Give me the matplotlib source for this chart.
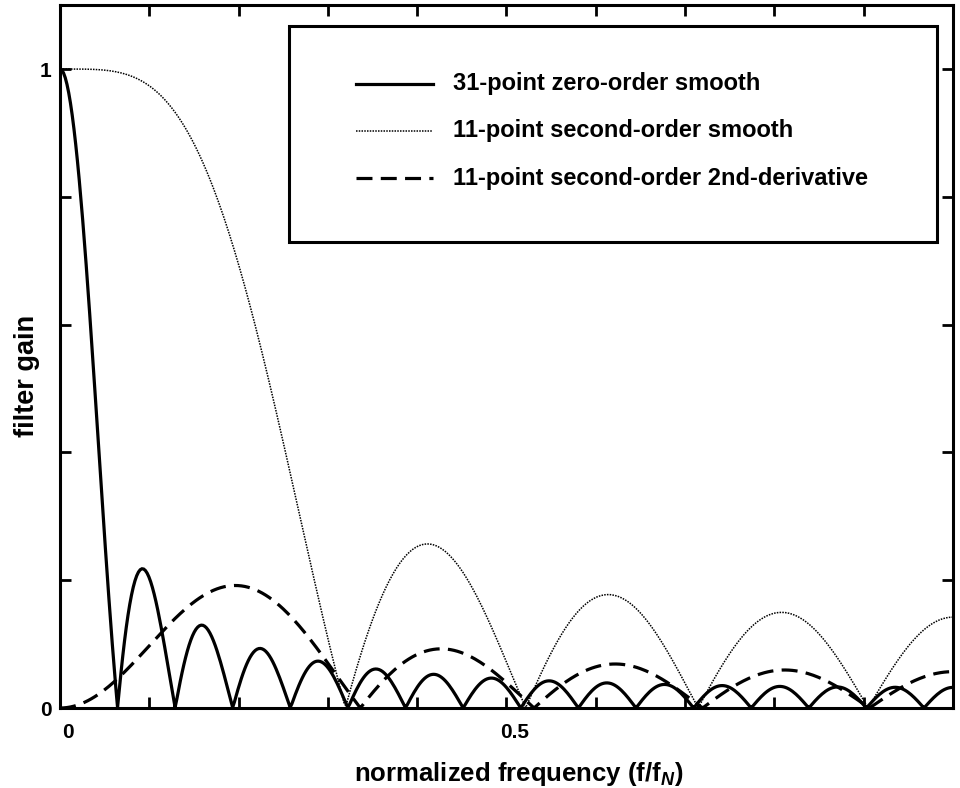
import numpy as np
import matplotlib
matplotlib.use("Agg")
import matplotlib.pyplot as plt
from matplotlib.patches import Rectangle
from matplotlib.transforms import ScaledTranslation

# filter kernels (coefficients, symmetric about the centre point)
MA31 = np.ones(31) / 31.0
SG11_SMOOTH = np.array([-36, 9, 44, 69, 84, 89, 84, 69, 44, 9, -36]) / 429.0
SG11_D2 = np.array([15, 6, -1, -6, -9, -10, -9, -6, -1, 6, 15]) / 429.0
D2_DISPLAY_SCALE = 1.22

LABELS = [
    "31-point zero-order smooth",
    "11-point second-order smooth",
    "11-point second-order 2nd-derivative",
]

NFFT = 1024


def gain(kernel, n=NFFT):
    h = np.fft.rfft(kernel, n)
    f = np.fft.rfftfreq(n) * 2.0  # normalised to Nyquist
    return f, np.abs(h)


plt.rcParams.update({
    "font.family": ["Liberation Sans", "DejaVu Sans"],
    "font.size": 16,
    "axes.linewidth": 2.2,
    "mathtext.fontset": "custom",
    "mathtext.rm": "Liberation Sans",
    "mathtext.bf": "Liberation Sans:bold",
    "mathtext.bfit": "Liberation Sans:italic:bold",
})

fig = plt.figure(figsize=(9.6, 7.88), dpi=100)
ax = fig.add_axes([0.0625, 0.1015, 0.930, 0.892])

styles = [
    dict(color="black", lw=2.3, solid_joinstyle="miter"),
    dict(color="black", lw=1.1, ls=(0, (1, 0.8))),
    dict(color="black", lw=2.3, ls=(0, (5, 2.6))),
]

f, g = gain(MA31)
ax.plot(f, g, **styles[0])
f, g = gain(SG11_SMOOTH)
ax.plot(f, g, **styles[1])
f, g = gain(SG11_D2)
ax.plot(f, g * D2_DISPLAY_SCALE, **styles[2])

ax.set_xlim(0, 1.0)
ax.set_ylim(0, 1.1)
ax.set_xticks(np.arange(0, 1.01, 0.1))
ax.set_xticklabels(["0", "", "", "", "", "0.5", "", "", "", "", ""])
ax.set_yticks(np.arange(0, 1.01, 0.2))
ax.set_yticklabels(["0", "", "", "", "", "1"])
ax.tick_params(direction="in", length=8, width=2, top=True, right=True,
               labelsize=15)
ax.tick_params(axis="x", pad=11)
ax.tick_params(axis="y", pad=6)
shift = ScaledTranslation(8 / 100, 0, fig.dpi_scale_trans)
for lbl in ax.get_xticklabels() + ax.get_yticklabels():
    lbl.set_fontweight("bold")
for lbl in ax.get_xticklabels():
    lbl.set_transform(lbl.get_transform() + shift)

ax.set_xlabel(r"normalized frequency (f/f$_\mathbfit{N}$)", fontsize=18.5,
              fontweight="bold")
ax.set_ylabel("filter gain", fontsize=19.5, fontweight="bold")
ax.xaxis.set_label_coords(0.514, -0.074)
ax.yaxis.set_label_coords(-0.022, 0.472)

# boxed key in the upper right
ax.add_patch(Rectangle((0.256, 0.663), 0.726, 0.307, transform=ax.transAxes,
                       facecolor="white", edgecolor="black", lw=2.2,
                       zorder=5))
for label, style, y in zip(LABELS, styles, [0.888, 0.821, 0.754]):
    ax.plot([0.331, 0.418], [y, y], transform=ax.transAxes, zorder=6,
            **style)
    ax.text(0.440, y, label, transform=ax.transAxes, va="center",
            ha="left", fontsize=17, fontweight="bold", zorder=6)

fig.savefig("out.png", dpi=100, facecolor="white")
